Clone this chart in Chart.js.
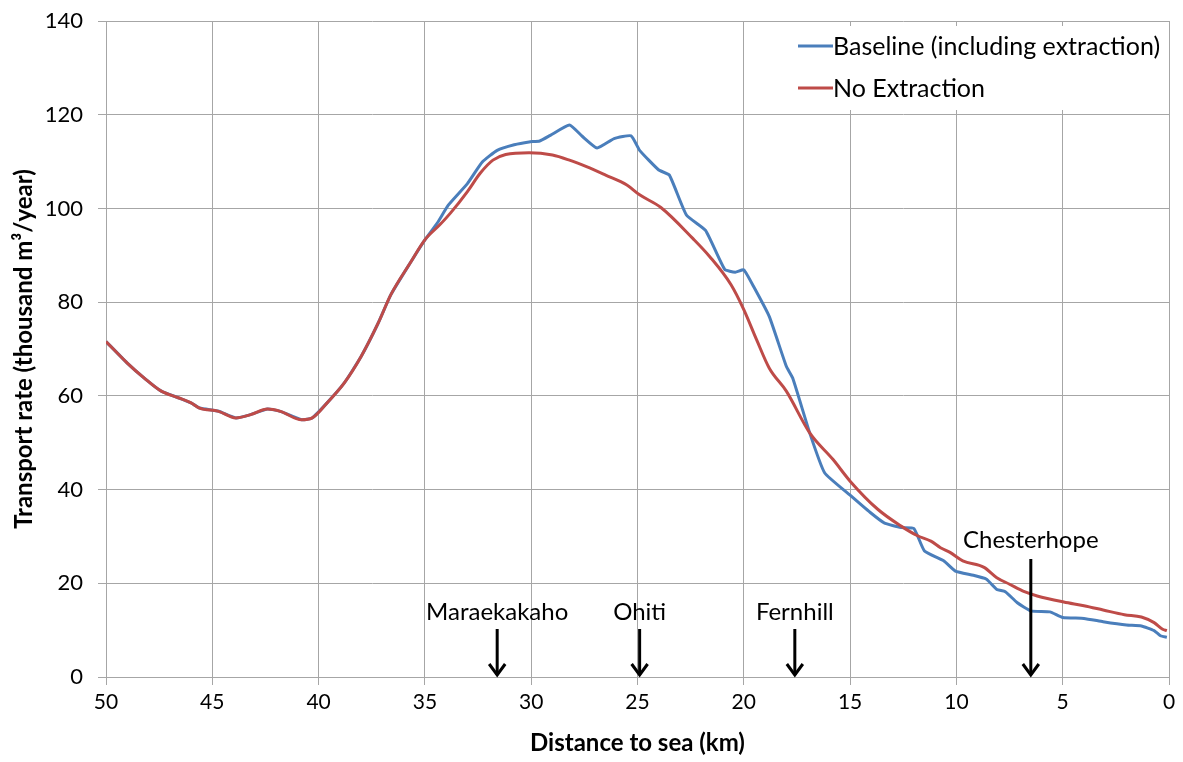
<!DOCTYPE html>
<html>
<head>
<meta charset="utf-8">
<script src="https://cdn.jsdelivr.net/npm/chart.js@4.4.1/dist/chart.umd.min.js"></script>
<style>
  html, body { margin: 0; padding: 0; background: #ffffff; }
  #wrap { width: 1183px; height: 762px; position: relative; }
</style>
</head>
<body>
<div id="wrap"><canvas id="chart"></canvas></div>
<script>
// Sediment transport rate along the river (thousand m3/year) vs distance to sea (km)
const baselineKm = [50, 49.0, 48.2, 47.4, 46.6, 46.0, 45.6, 44.7, 43.9, 43.2, 42.4, 41.8, 40.8, 40.3, 39.6, 38.8, 38.0, 37.2, 36.6, 35.7, 35.0,
  34.4, 33.9, 33.0, 32.3, 31.6, 30.8, 30.1, 29.6, 29.1, 28.2, 27.6, 26.9, 26.1, 25.3, 24.9, 24.0, 23.5, 22.7, 21.8, 20.9, 20.4, 20.0,
  19.5, 18.8, 18.0, 17.7, 16.9, 16.2, 15.0, 14.05, 13.4, 12.6, 12.0, 11.5, 10.6, 10.05, 9.2, 8.6, 8.1, 7.7, 7.15, 6.5, 5.6, 5.0,
  4.0, 3.1, 2.0, 1.3, 0.7, 0.4, 0.1];
const baselineRate = [71.6, 67.0, 63.8, 61.0, 59.6, 58.5, 57.4, 56.7, 55.3, 56.0, 57.2, 56.7, 54.9, 55.3, 58.5, 62.7, 68.4, 75.5, 81.6, 88.3, 93.3,
  97.0, 100.7, 105.3, 109.9, 112.4, 113.6, 114.2, 114.4, 115.6, 117.8, 115.4, 112.9, 114.9, 115.5, 112.4, 108.2, 107.1, 98.6, 95.3, 87.0, 86.4, 86.9,
  83.0, 76.9, 66.3, 63.8, 52.1, 43.6, 38.8, 35.1, 32.9, 31.9, 31.7, 26.9, 24.8, 22.6, 21.7, 20.9, 18.7, 18.2, 15.9, 14.1, 13.9, 12.7,
  12.5, 11.8, 11.1, 10.9, 9.9, 8.8, 8.5];

const noExtractionKm = [50, 49.0, 48.2, 47.4, 46.6, 46.0, 45.6, 44.7, 43.9, 43.2, 42.4, 41.8, 40.8, 40.3, 39.6, 38.8, 38.0, 37.2, 36.6, 35.7, 35.0,
  34.3, 33.8, 33.0, 32.4, 31.8, 31.2, 30.1, 29.0, 28.2, 27.4, 26.5, 25.5, 24.9, 23.9, 22.4, 21.6, 20.6, 20.0, 19.4, 18.8, 18.0,
  16.9, 15.8, 15.0, 13.7, 12.6, 11.85, 11.2, 10.75, 10.3, 9.7, 8.7, 8.1, 7.5, 6.8, 6.2, 4.95, 4.0, 3.1, 2.1, 1.3, 0.7, 0.3, 0.1];
const noExtractionRate = [71.6, 67.0, 63.8, 61.0, 59.6, 58.5, 57.4, 56.7, 55.3, 56.0, 57.2, 56.7, 54.9, 55.3, 58.5, 62.7, 68.4, 75.5, 81.6, 88.3, 93.3,
  96.5, 99.0, 103.6, 107.5, 110.3, 111.5, 111.9, 111.4, 110.3, 108.9, 107.1, 105.0, 102.9, 100.2, 93.6, 89.7, 83.7, 78.4, 72.0, 65.9, 61.0,
  52.1, 46.4, 41.8, 35.8, 32.2, 30.2, 29.0, 27.6, 26.6, 24.8, 23.4, 21.2, 19.8, 18.2, 17.3, 16.0, 15.2, 14.3, 13.3, 12.8, 11.6, 10.2, 9.9];

const seriesNames = ['Baseline (including extraction)', 'No Extraction'];
const seriesColors = ['#4a7ebb', '#be4b48'];

// Places marked along the river
const siteNames = ['Maraekakaho', 'Ohiti', 'Fernhill', 'Chesterhope'];
const siteKm = [31.6, 24.9, 17.6, 6.5];

const xTicks = [50, 45, 40, 35, 30, 25, 20, 15, 10, 5, 0];
const yTicks = [0, 20, 40, 60, 80, 100, 120, 140];

const FONT = 'Lato, "Open Sans", sans-serif';
const GRID = '#a6a6a6';

function toPoints(xs, ys) { return xs.map((x, i) => ({ x: x, y: ys[i] })); }

// White legend box in the upper right of the plot
const legendBox = {
  id: 'legendBox',
  beforeDatasetsDraw(chart) {
    const ctx = chart.ctx;
    const a = chart.chartArea;
    const left = a.right - 382, top = a.top + 5, w = 381, h = 84;
    ctx.save();
    ctx.fillStyle = '#ffffff';
    ctx.fillRect(left, top, w, h);
    ctx.font = '25px ' + FONT;
    ctx.textBaseline = 'middle';
    seriesNames.forEach((name, i) => {
      const y = top + 20 + i * 42;
      ctx.strokeStyle = seriesColors[i];
      ctx.lineWidth = 3;
      ctx.beginPath();
      ctx.moveTo(left + 11, y);
      ctx.lineTo(left + 46, y);
      ctx.stroke();
      ctx.fillStyle = '#000000';
      ctx.fillText(name, left + 46, y + 1);
    });
    ctx.restore();
  }
};

// Site labels with downward arrows to the x axis
const siteMarkers = {
  id: 'siteMarkers',
  afterDatasetsDraw(chart) {
    const ctx = chart.ctx;
    const xs = chart.scales.x;
    const bottom = chart.chartArea.bottom;
    ctx.save();
    ctx.font = '24px ' + FONT;
    ctx.textAlign = 'center';
    ctx.textBaseline = 'middle';
    ctx.strokeStyle = '#000000';
    ctx.fillStyle = '#000000';
    ctx.lineWidth = 3;
    siteNames.forEach((name, i) => {
      const px = xs.getPixelForValue(siteKm[i]);
      const tall = i === siteNames.length - 1;
      const labelY = tall ? bottom - 137 : bottom - 65;
      const topY = tall ? bottom - 118 : bottom - 48;
      const tipY = bottom - 2;
      ctx.fillText(name, px, labelY);
      ctx.beginPath();
      ctx.moveTo(px, topY);
      ctx.lineTo(px, tipY);
      ctx.stroke();
      ctx.beginPath();
      ctx.moveTo(px - 8, tipY - 11);
      ctx.lineTo(px, tipY);
      ctx.lineTo(px + 8, tipY - 11);
      ctx.stroke();
    });
    ctx.restore();
  }
};

new Chart(document.getElementById('chart'), {
  type: 'line',
  data: {
    datasets: [
      {
        label: seriesNames[0],
        data: toPoints(baselineKm, baselineRate),
        borderColor: seriesColors[0],
        borderWidth: 3,
        pointRadius: 0,
        tension: 0.15,
        order: 1
      },
      {
        label: seriesNames[1],
        data: toPoints(noExtractionKm, noExtractionRate),
        borderColor: seriesColors[1],
        borderWidth: 3,
        pointRadius: 0,
        cubicInterpolationMode: 'monotone',
        order: 0
      }
    ]
  },
  options: {
    responsive: true,
    maintainAspectRatio: false,
    animation: false,
    layout: { padding: { top: 21, right: 14, left: 0, bottom: 0 } },
    plugins: { legend: { display: false }, tooltip: { enabled: false } },
    scales: {
      x: {
        type: 'linear',
        reverse: true,
        min: 0, max: 50,
        afterBuildTicks(scale) { scale.ticks = xTicks.map(v => ({ value: v })); },
        afterFit(scale) { scale.height = 85; },
        ticks: { color: '#000', font: { family: FONT, size: 21 }, padding: 5, maxRotation: 0 },
        grid: { color: GRID, lineWidth: 1, tickLength: 8, tickColor: GRID },
        border: { color: GRID },
        title: { display: true, text: 'Distance to sea (km)', color: '#000',
                 font: { family: FONT, size: 24, weight: 'bold' }, padding: { top: 0 } }
      },
      y: {
        min: 0, max: 140,
        afterBuildTicks(scale) { scale.ticks = yTicks.map(v => ({ value: v })); },
        afterFit(scale) { scale.width = 106; scale.paddingTop = 0; scale.paddingBottom = 0; },
        ticks: { color: '#000', font: { family: FONT, size: 22 }, padding: 15 },
        grid: { color: GRID, lineWidth: 1, tickLength: 8, tickColor: GRID },
        border: { color: GRID },
        title: { display: true, text: 'Transport rate (thousand m³/year)', color: '#000',
                 font: { family: FONT, size: 24, weight: 'bold' }, padding: { top: 10 } }
      }
    }
  },
  plugins: [legendBox, siteMarkers]
});
</script>
</body>
</html>
